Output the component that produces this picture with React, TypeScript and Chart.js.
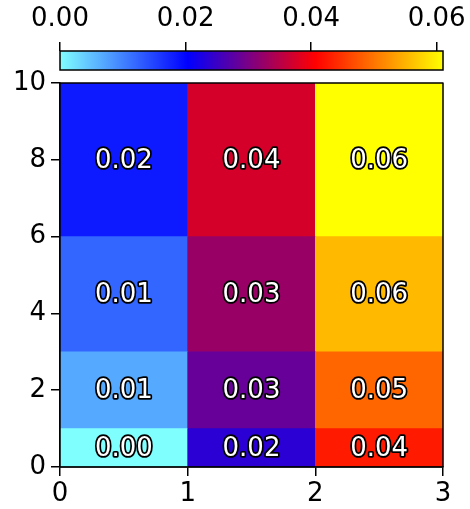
import React, { useEffect, useRef } from "react";
import { Chart, registerables } from "chart.js";

Chart.register(...registerables);

// ---- data ----
const xEdges = [0, 1, 2, 3];
const yEdges = [0, 1, 3, 6, 10];
// values per row (bottom to top), one value per column
const row0 = [0.0, 0.0237, 0.0427];
const row1 = [0.0068, 0.0285, 0.0488];
const row2 = [0.0122, 0.0325, 0.0555];
const row3 = [0.0183, 0.0373, 0.061];
const rows = [row0, row1, row2, row3];
const vmin = 0;
const vmax = 0.061;
const cbTicks = [0, 0.02, 0.04, 0.06];
const xTicks = [0, 1, 2, 3];
const yTicks = [0, 2, 4, 6, 8, 10];

// colormap stops: light cyan -> blue -> red -> yellow
const cmapStops: [number, number[]][] = [
  [0, [128, 255, 255]],
  [1 / 3, [0, 0, 255]],
  [2 / 3, [255, 0, 0]],
  [1, [255, 255, 0]],
];

function cmap(v: number): string {
  let t = (v - vmin) / (vmax - vmin);
  t = Math.max(0, Math.min(1, t));
  for (let i = 1; i < cmapStops.length; i++) {
    const [t1, c1] = cmapStops[i];
    const [t0, c0] = cmapStops[i - 1];
    if (t <= t1) {
      const s = (t - t0) / (t1 - t0);
      const c = c0.map((a, k) => Math.round(a + (c1[k] - a) * s));
      return `rgb(${c[0]},${c[1]},${c[2]})`;
    }
  }
  const c = cmapStops[cmapStops.length - 1][1];
  return `rgb(${c[0]},${c[1]},${c[2]})`;
}

const FONT = "'DejaVu Sans', sans-serif";
const W = 470;
const H = 509;
const FS = 26;

export default function App() {
  const mainRef = useRef<HTMLCanvasElement>(null);
  const cbRef = useRef<HTMLCanvasElement>(null);

  useEffect(() => {
    const xCenters = xEdges.slice(0, -1).map((e, i) => (e + xEdges[i + 1]) / 2);

    const datasets = rows.map((vals, r) => ({
      label: `row${r}`,
      data: xCenters.map((xc) => ({ x: xc, y: [yEdges[r], yEdges[r + 1]] })),
      backgroundColor: vals.map((v) => cmap(v)),
      borderWidth: 0,
      grouped: false,
      barPercentage: 1,
      categoryPercentage: 1,
    }));

    const labelsPlugin = {
      id: "cellLabels",
      afterDatasetsDraw(chart: any) {
        const ctx = chart.ctx;
        const xs = chart.scales.x;
        const ys = chart.scales.y;
        ctx.save();
        ctx.font = `${FS}px ${FONT}`;
        ctx.textAlign = "center";
        ctx.textBaseline = "middle";
        ctx.lineJoin = "round";
        rows.forEach((vals, r) => {
          vals.forEach((v, c) => {
            const px = xs.getPixelForValue(xCenters[c]);
            const py = ys.getPixelForValue((yEdges[r] + yEdges[r + 1]) / 2);
            const txt = v.toFixed(2);
            ctx.lineWidth = 3.5;
            ctx.strokeStyle = "black";
            ctx.strokeText(txt, px, py + 1);
            ctx.fillStyle = "white";
            ctx.fillText(txt, px, py + 1);
          });
        });
        const a = chart.chartArea;
        ctx.lineWidth = 1.5;
        ctx.strokeStyle = "black";
        ctx.strokeRect(a.left, a.top, a.right - a.left, a.bottom - a.top);
        ctx.restore();
      },
    };

    const main = new Chart(mainRef.current!, {
      type: "bar",
      data: { datasets: datasets as any },
      options: {
        animation: false,
        responsive: false,
        maintainAspectRatio: false,
        layout: { padding: { left: 0, top: 83, right: W - 443, bottom: 0 } },
        plugins: { legend: { display: false }, tooltip: { enabled: false } },
        scales: {
          x: {
            type: "linear",
            min: 0,
            max: 3,
            offset: false,
            afterBuildTicks: (s: any) => {
              s.ticks = xTicks.map((v) => ({ value: v }));
            },
            afterFit: (s: any) => {
              s.height = H - 467;
            },
            ticks: {
              color: "black",
              font: { family: FONT, size: FS },
              padding: 3,
              maxRotation: 0,
              callback: (v: any) => String(v),
            },
            grid: {
              display: true,
              offset: false,
              drawOnChartArea: false,
              drawTicks: true,
              tickLength: 9,
              color: "black",
              lineWidth: 1.5,
            },
            border: { display: true, color: "black", width: 1.5 },
          },
          y: {
            type: "linear",
            min: 0,
            max: 10,
            afterBuildTicks: (s: any) => {
              s.ticks = yTicks.map((v) => ({ value: v }));
            },
            afterFit: (s: any) => {
              s.width = 60;
            },
            ticks: {
              color: "black",
              font: { family: FONT, size: FS },
              padding: 5,
              callback: (v: any) => String(v),
            },
            grid: {
              display: true,
              offset: false,
              drawOnChartArea: false,
              drawTicks: true,
              tickLength: 9,
              color: "black",
              lineWidth: 1.5,
            },
            border: { display: true, color: "black", width: 1.5 },
          },
        },
      } as any,
      plugins: [labelsPlugin],
    });

    const gradPlugin = {
      id: "cbGradient",
      beforeDatasetsDraw(chart: any) {
        const ctx = chart.ctx;
        const a = chart.chartArea;
        const xs = chart.scales.x;
        const x0 = xs.getPixelForValue(vmin);
        const x1 = xs.getPixelForValue(vmax);
        const g = ctx.createLinearGradient(x0, 0, x1, 0);
        for (let i = 0; i <= 60; i++) {
          const t = i / 60;
          g.addColorStop(t, cmap(vmin + t * (vmax - vmin)));
        }
        ctx.save();
        ctx.fillStyle = g;
        ctx.fillRect(a.left, a.top, a.right - a.left, a.bottom - a.top);
        ctx.lineWidth = 1.5;
        ctx.strokeStyle = "black";
        ctx.strokeRect(a.left, a.top, a.right - a.left, a.bottom - a.top);
        ctx.restore();
      },
    };

    const cb = new Chart(cbRef.current!, {
      type: "scatter",
      data: { datasets: [{ data: [] }] },
      options: {
        animation: false,
        responsive: false,
        maintainAspectRatio: false,
        layout: { padding: { left: 60, top: 0, right: W - 443, bottom: 80 - 70 } },
        plugins: { legend: { display: false }, tooltip: { enabled: false } },
        scales: {
          x: {
            type: "linear",
            position: "top",
            min: vmin,
            max: vmax,
            afterBuildTicks: (s: any) => {
              s.ticks = cbTicks.map((v) => ({ value: v }));
            },
            afterFit: (s: any) => {
              s.height = 51;
              s.paddingLeft = 0;
              s.paddingRight = 0;
            },
            ticks: {
              color: "black",
              font: { family: FONT, size: FS },
              padding: 7,
              maxRotation: 0,
              callback: (v: any) => Number(v).toFixed(2),
            },
            grid: {
              display: true,
              offset: false,
              drawOnChartArea: false,
              drawTicks: true,
              tickLength: 9,
              color: "black",
              lineWidth: 1.5,
            },
            border: { display: false },
          },
          y: { display: false, min: 0, max: 1 },
        },
      } as any,
      plugins: [gradPlugin],
    });

    return () => {
      main.destroy();
      cb.destroy();
    };
  }, []);

  return (
    <div style={{ position: "fixed", left: 0, top: 0, width: W, height: H, background: "white" }}>
      <canvas ref={mainRef} width={W} height={H} style={{ position: "absolute", left: 0, top: 0 }} />
      <canvas ref={cbRef} width={W} height={80} style={{ position: "absolute", left: 0, top: 0 }} />
    </div>
  );
}
